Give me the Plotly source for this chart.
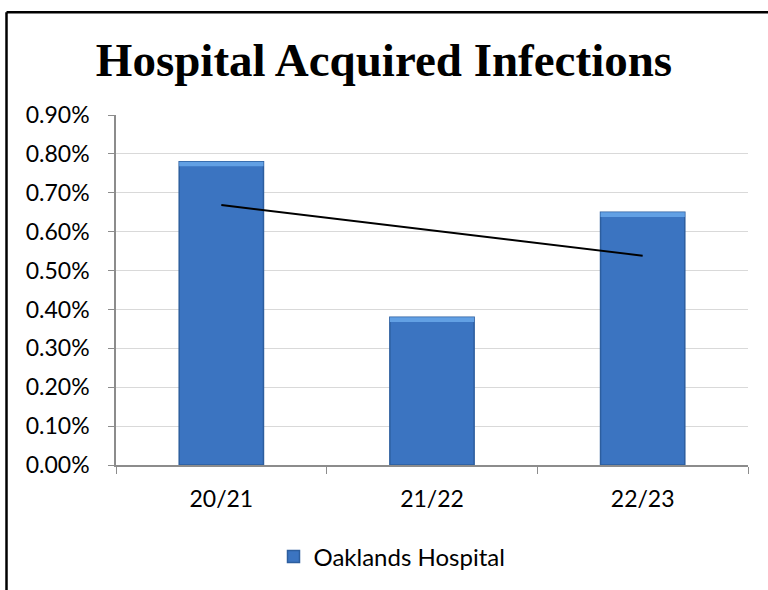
import numpy as np
import plotly.graph_objects as go

# Financial years and infection rate (as a fraction) for Oaklands Hospital
years = ["20/21", "21/22", "22/23"]
infection_rate = [0.0078, 0.0038, 0.0065]
series_name = "Oaklands Hospital"

# Linear trendline fitted across the three years
idx = np.arange(1, len(years) + 1)
slope, intercept = np.polyfit(idx, infection_rate, 1)
trend = slope * idx + intercept

bar_fill = "#3b74c1"
bar_edge = "#2d5e9e"
bevel = "#62a0e4"

# Plot-area geometry (pixels) used for the outer frame position
W, H = 768, 590
ML, MR, MT, MB = 116, 20, 115, 124
PW, PH = W - ML - MR, H - MT - MB

fig = go.Figure()

fig.add_trace(go.Bar(
    x=years, y=infection_rate, name=series_name,
    marker=dict(color=bar_fill, line=dict(color=bar_edge, width=1.5)),
    showlegend=True, hoverinfo="skip",
))

# Light bevel strip across the top of each bar
strip = 0.00012
fig.add_trace(go.Bar(
    x=years, y=[strip] * len(years),
    base=[v - strip for v in infection_rate],
    marker=dict(color=bevel, line=dict(width=0)),
    showlegend=False, hoverinfo="skip",
))

fig.add_trace(go.Scatter(
    x=years, y=trend, mode="lines",
    line=dict(color="black", width=2),
    showlegend=False, hoverinfo="skip",
))

axis_font = dict(family="Lato, sans-serif", size=23, color="#000000")

frame_x = (6.5 - ML) / PW
frame_top = 1 + (MT - 12) / PH

fig.update_layout(
    width=W, height=H,
    margin=dict(l=ML, r=MR, t=MT, b=MB),
    paper_bgcolor="white", plot_bgcolor="white",
    barmode="overlay", bargap=0.6,
    title=dict(
        text="<b>Hospital Acquired Infections</b>",
        x=0.5, xanchor="center", y=1 - 60 / H, yanchor="middle",
        font=dict(family="Liberation Serif, serif", size=47, color="#000000"),
    ),
    xaxis=dict(
        type="category",
        showline=True, linecolor="#8c8c8c", linewidth=1.5,
        ticks="outside", tickson="boundaries", ticklen=7, tickcolor="#8c8c8c",
        tickfont=axis_font, showgrid=False, ticklabelstandoff=13,
    ),
    yaxis=dict(
        range=[0, 0.009], dtick=0.001, tickformat=".2%",
        showline=True, linecolor="#8c8c8c", linewidth=1.5,
        ticks="outside", ticklen=6, tickcolor="#8c8c8c",
        showgrid=True, gridcolor="#d9d9d9", gridwidth=1.2,
        tickfont=axis_font, zeroline=False, ticklabelstandoff=14,
    ),
    legend=dict(
        orientation="h", x=(392 - ML) / PW, xanchor="center",
        y=-(557 - (MT + PH)) / PH, yanchor="middle",
        font=dict(family="Lato, sans-serif", size=24, color="#000000"),
        itemwidth=30,
    ),
    shapes=[
        # Outer frame: top and left edges
        dict(type="line", xref="paper", yref="paper",
             x0=frame_x, x1=(W + 10 - ML) / PW, y0=frame_top, y1=frame_top,
             line=dict(color="black", width=2.5)),
        dict(type="line", xref="paper", yref="paper",
             x0=frame_x, x1=frame_x, y0=-(MB + 10) / PH, y1=frame_top,
             line=dict(color="black", width=2.5)),
    ],
)

fig.write_html("out.html")
